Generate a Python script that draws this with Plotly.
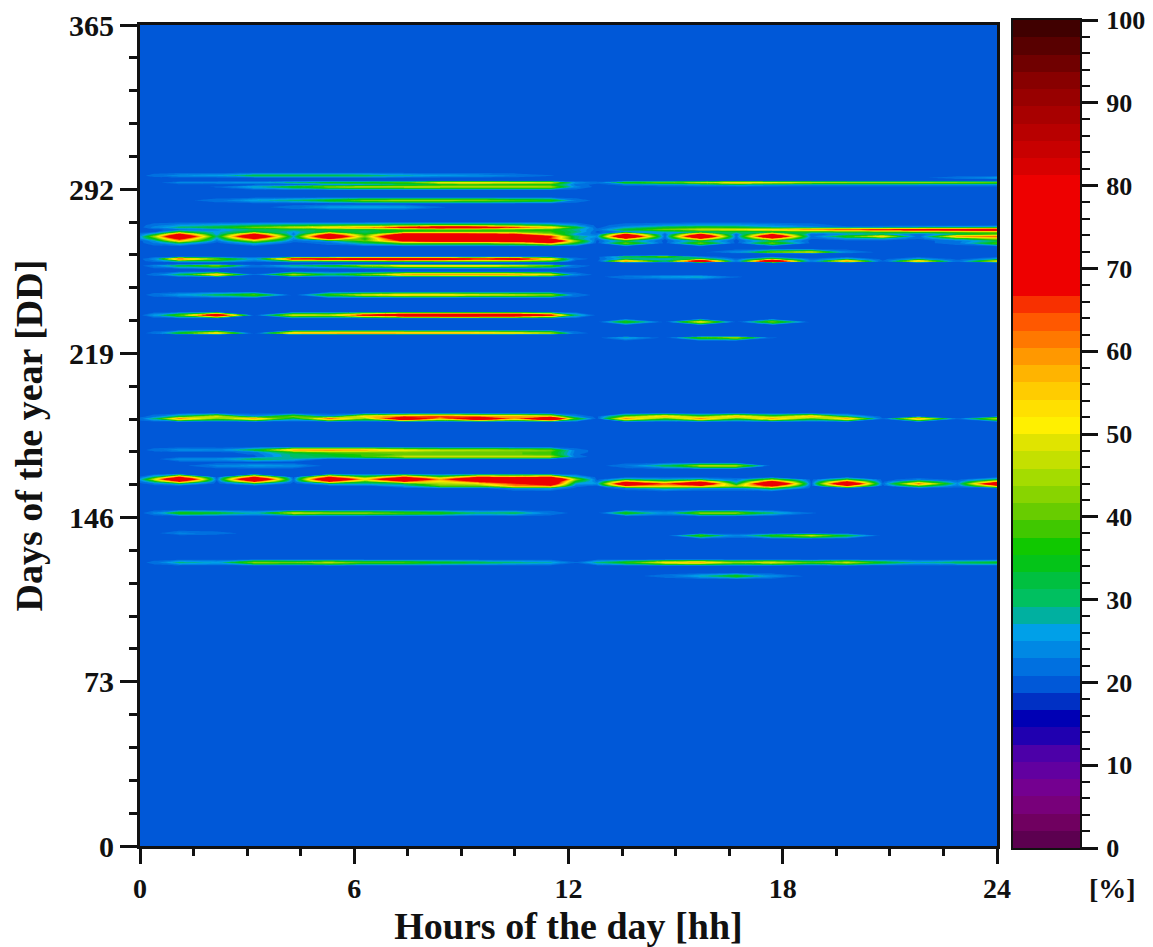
import plotly.graph_objects as go

hours = [0, .4, 1.1, 2.15, 3.2, 4.3, 5.3, 6.3, 7.4, 8.4, 9.5, 10.5, 11.5, 12.2,
         12.8, 13.6, 14.7, 15.7, 16.7, 17.7, 18.8, 19.8, 20.8, 21.8, 22.9, 24]
background = 20.0

rows = {
 298: [20,22,25,26,33,33,33,32,28,26,25,23,21,20, 20,20,20,20,20,20,20,20,20,20,20,20],
 297: [20,20,20,20,20,20,20,20,20,20,20,20,20,20, 20,20,20,20,20,20,20,20,20,20,23,26],
 295: [20,20,24,25,26,31,36,37,40,52,55,52,50,25, 22,38,42,48,58,52,48,46,46,46,44,42],
 294: [20,20,20,20,20,20,24,26,30,33,35,35,35,22, 20,22,24,26,28,26,24,24,24,24,24,24],
 293: [20,20,20,21,28,36,43,47,48,48,47,47,46,24, 20,20,20,20,20,20,20,20,20,20,20,20],
 287: [20,20,20,22,27,30,36,43,46,46,44,40,38,23, 20,20,20,20,20,20,20,20,20,20,20,20],
 284: [20,20,20,20,20,22,26,27,26,21,20,20,20,20, 20,20,20,20,20,20,20,20,20,20,20,20],
 276: [20,22,25,27,30,32,33,34,36,38,38,36,32,25, 20,22,24,26,26,24,22,20,20,20,20,20],
 275: [20,24,30,34,42,48,55,60,72,82,78,68,55,35, 20,26,33,36,34,28,25,22,24,26,28,30],
 274: [20,20,22,24,30,30,32,32,36,36,36,36,36,28, 22,34,42,48,50,55,62,66,70,74,78,82],
 273: [20,20,36,26,36,25,36,30,38,40,40,40,38,30, 20,24,26,28,30,30,32,34,36,38,40,42],
 272: [22,30,70,25,70,22,70,35,75,75,72,68,45,25, 22,68,21,68,21,65,21,25,28,21,30,36],
 271: [25,45,100,30,100,27,100,42,110,105,100,100,70,30, 25,105,21,105,21,100,22,38,55,21,60,65],
 270: [24,35,72,25,68,24,68,35,85,90,88,85,65,30, 22,60,21,62,21,58,21,25,26,21,32,45],
 269: [20,25,55,22,45,22,25,40,70,78,78,80,95,45, 20,30,20,30,20,30,20,20,20,20,22,30],
 268: [20,23,30,20,28,20,22,30,40,40,40,45,60,35, 20,42,20,42,20,42,20,20,20,20,22,40],
 264: [20,20,20,20,20,20,20,20,20,20,20,20,20,20, 20,20,20,20,25,42,50,24,20,20,20,20],
 262: [20,20,20,20,20,20,20,20,20,20,20,20,20,20, 20,32,42,22,20,20,20,20,20,20,20,20],
 261: [20,25,65,42,26,72,76,84,90,84,70,78,55,22, 20,28,24,36,21,40,21,28,20,26,20,26],
 260: [20,22,30,30,22,32,34,36,40,42,42,42,36,20, 20,62,32,88,24,95,24,62,21,58,22,52],
 258: [20,24,34,44,22,30,36,46,55,56,55,50,42,23, 20,20,20,20,20,20,20,20,20,20,20,20],
 254: [20,22,32,58,21,48,32,42,60,62,62,60,52,24, 20,20,20,20,20,20,20,20,20,20,20,20],
 253: [20,20,20,20,20,20,20,20,20,20,20,20,20,20, 20,23,26,28,21,20,20,20,20,20,20,20],
 245: [20,22,26,32,40,20,38,50,56,54,50,48,45,23, 20,20,20,20,20,20,20,20,20,20,20,20],
 236: [20,26,40,85,20,50,48,72,92,95,95,92,72,30, 20,20,20,20,20,20,20,20,20,20,20,20],
 233: [20,20,20,20,20,20,20,20,20,20,20,20,20,20, 20,38,20,52,20,42,20,20,20,20,20,20],
 228: [20,22,36,56,20,58,60,62,60,60,58,54,48,22, 20,20,20,20,20,20,20,20,20,20,20,20],
 226: [20,20,20,20,20,20,20,20,20,20,20,20,20,20, 20,28,20,40,46,21,20,20,20,20,20,20],
 191: [20,22,32,50,25,43,25,55,62,66,60,60,52,24, 20,40,58,40,58,40,58,30,20,20,20,20],
 190: [22,30,62,42,60,30,65,42,90,58,88,60,100,38, 20,62,38,62,38,60,38,60,21,60,21,48],
 176: [20,22,25,24,34,60,62,60,52,48,46,44,42,22, 20,20,20,20,20,20,20,20,20,20,20,20],
 175: [20,20,20,20,22,35,40,40,42,40,40,40,38,22, 20,20,20,20,20,20,20,20,20,20,20,20],
 174: [20,20,20,20,21,30,34,38,40,40,40,40,38,21, 20,20,20,20,20,20,20,20,20,20,20,20],
 173: [20,20,20,20,20,30,32,38,48,48,48,48,48,22, 20,20,20,20,20,20,20,20,20,20,20,20],
 172: [20,20,25,25,33,28,20,20,20,20,20,20,20,20, 20,20,20,20,20,20,20,20,20,20,20,20],
 169: [20,20,20,24,26,25,20,20,20,20,20,20,20,20, 20,23,32,48,46,20,20,20,20,20,20,20],
 164: [21,30,66,20,66,20,66,38,66,40,66,60,66,28, 20,20,20,20,20,20,20,20,20,20,20,20],
 163: [26,50,110,21,110,21,105,55,105,60,105,100,110,45, 20,30,26,28,22,40,20,35,20,22,20,30],
 162: [22,32,66,20,66,21,66,36,66,50,70,75,88,35, 22,60,40,62,25,70,20,66,20,38,22,55],
 161: [20,22,30,20,30,20,28,28,30,45,50,65,85,26, 25,95,65,100,30,110,20,105,21,65,25,95],
 160: [20,20,20,20,20,20,20,20,26,40,40,60,62,22, 20,60,55,60,45,70,20,60,20,38,22,55],
 159: [20,20,20,20,20,20,20,20,20,20,20,24,26,20, 20,22,30,24,24,35,20,20,20,20,20,20],
 148: [20,24,38,35,28,50,45,45,40,38,30,32,23,20, 20,38,25,45,44,30,21,20,20,20,20,20],
 139: [20,20,24,22,20,20,20,20,20,20,20,20,20,20, 20,20,20,20,20,20,20,20,20,20,20,20],
 138: [20,20,20,20,20,20,20,20,20,20,20,20,20,20, 20,20,20,40,24,38,50,34,20,20,20,20],
 126: [20,22,30,27,45,42,48,40,40,36,33,30,28,21, 30,38,55,60,46,52,40,50,35,28,32,35],
 120: [20,20,20,20,20,20,20,20,20,20,20,20,20,20, 20,20,22,28,38,25,20,20,20,20,20,20],
}

level_colors = [
 "#5c0050","#700060","#78007a","#740090","#6200a0","#4c00a8","#2000b0","#0000b4",
 "#0030c4","#0058d8","#0070e0","#0088e4","#00a0e8","#00b0a0","#00c060","#00c040",
 "#04c418","#10c800","#40c800","#68cc00","#88d400","#a4dc00","#c4e000","#e0e400",
 "#fff000","#ffe000","#ffcc00","#ffb400","#ff9800","#ff7800","#ff5800","#f83000",
 "#ee0000","#ee0000","#ee0000","#ee0000","#ee0000","#ee0000","#ee0000","#d80000",
 "#c80000","#b80000","#a80000","#980000","#880000","#700000","#580000","#400000",
]
y_tick_vals = [0, 73, 146, 219, 292, 365]
x_tick_vals = [0, 6, 12, 18, 24]
cbar_tick_vals = [0, 10, 20, 30, 40, 50, 60, 70, 80, 90, 100]


def stepped(colors):
    m = len(colors)
    out = []
    for i, c in enumerate(colors):
        out += [[i / m, c], [(i + 1) / m, c]]
    return out


# Row positions: the read rows, plus background rows framing each band.
BAND_HALF_DEPTH = 1.4
grid_days = {0.0, 365.0}
for d in rows:
    grid_days.add(float(d))
    if d - 1 not in rows:
        grid_days.add(d - BAND_HALF_DEPTH)
    if d + 1 not in rows:
        grid_days.add(d + BAND_HALF_DEPTH)
days = sorted(grid_days)
z = [rows.get(int(d), [background] * len(hours)) if d == int(d) else [background] * len(hours) for d in days]

n = len(level_colors)
step = 100 / n
top_level = 39
level_mids = [(i + 0.5) * step for i in range(n)]

W, H = 1153, 947
SERIF = "Liberation Serif"
INK = "#111111"

fig = go.Figure()
fig.add_trace(go.Contour(
    x=hours, y=days, z=z, colorscale=stepped(level_colors[:top_level]),
    autocontour=False,
    contours=dict(start=0, end=top_level * step, size=step, coloring="fill", showlines=False),
    line=dict(width=0, smoothing=0), showscale=False, hoverinfo="skip",
))
fig.add_trace(go.Heatmap(
    x=[0], y=level_mids, z=[[m] for m in level_mids], colorscale=stepped(level_colors),
    zmin=0, zmax=100, showscale=False, xaxis="x2", yaxis="y2", hoverinfo="skip",
))

fig.update_layout(
    template="none",
    width=W, height=H, autosize=False, paper_bgcolor="white", plot_bgcolor="white",
    margin=dict(l=0, r=0, t=0, b=0, pad=0), showlegend=False,
    font=dict(family=SERIF, color=INK),
    xaxis=dict(
        automargin=False,
        domain=[140 / W, 997 / W], range=[0, 24], tickmode="array", tickvals=x_tick_vals,
        ticks="outside", ticklen=15, tickwidth=3, tickcolor=INK,
        minor=dict(dtick=1.5, tick0=0, ticks="outside", ticklen=7, tickwidth=3, tickcolor=INK),
        showgrid=False, zeroline=False, showline=True, linecolor=INK, linewidth=3, mirror=True,
        tickfont=dict(family=SERIF, size=28, weight="bold", color=INK),
        title=dict(text="<b>Hours of the day [hh]</b>", font=dict(family=SERIF, size=38, color=INK), standoff=14),
        anchor="y",
    ),
    yaxis=dict(
        automargin=False,
        domain=[(H - 846) / H, (H - 25) / H], range=[0, 365], tickmode="array", tickvals=y_tick_vals,
        ticks="outside", ticklen=17, tickwidth=3, tickcolor=INK,
        minor=dict(dtick=14.6, tick0=0, ticks="outside", ticklen=8, tickwidth=3, tickcolor=INK),
        showgrid=False, zeroline=False, showline=True, linecolor=INK, linewidth=3, mirror=True,
        tickfont=dict(family=SERIF, size=30, weight="bold", color=INK),
        title=dict(text="<b>Days of the year [DD]</b>", font=dict(family=SERIF, size=38, color=INK), standoff=15),
        anchor="x",
    ),
    xaxis2=dict(
        automargin=False,
        domain=[1013 / W, 1080 / W], range=[-0.5, 0.5], showticklabels=False, ticks="",
        showgrid=False, zeroline=False, showline=True, linecolor=INK, linewidth=2, mirror=True,
        anchor="y2",
    ),
    yaxis2=dict(
        automargin=False,
        domain=[(H - 848) / H, (H - 20) / H], range=[0, 100], side="right", anchor="x2",
        tickmode="array", tickvals=cbar_tick_vals,
        ticks="outside", ticklen=16, tickwidth=3, tickcolor=INK, ticklabelstandoff=3,
        minor=dict(dtick=2, tick0=0, ticks="outside", ticklen=8, tickwidth=2, tickcolor=INK),
        showgrid=False, zeroline=False, showline=True, linecolor=INK, linewidth=2, mirror=True,
        tickfont=dict(family=SERIF, size=26, weight="bold", color=INK),
    ),
    annotations=[dict(
        text="<b>[%]</b>", xref="paper", yref="paper", x=1112 / W, y=(H - 888) / H,
        xanchor="center", yanchor="middle", showarrow=False,
        font=dict(family=SERIF, size=28, color=INK),
    )],
)

fig.write_html("out.html", config={"displayModeBar": False},
               post_script="document.body.style.margin='0';document.body.style.overflow='hidden';")
